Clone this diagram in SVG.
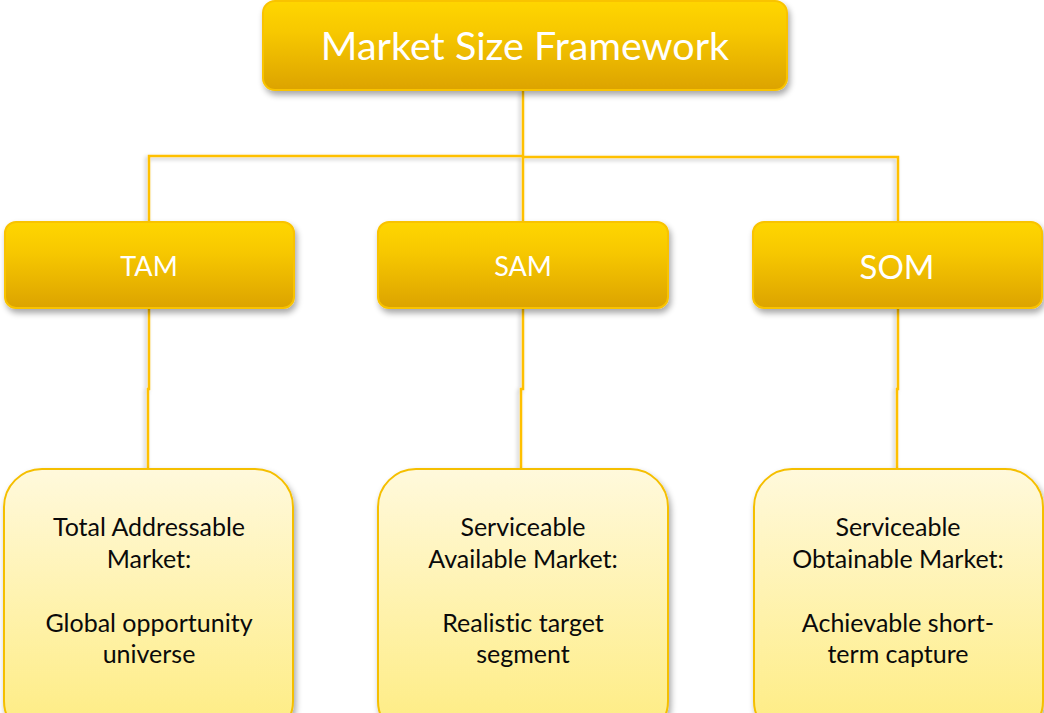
<svg xmlns="http://www.w3.org/2000/svg" width="1044" height="713" viewBox="0 0 1044 713">
  <defs>
    <linearGradient id="gold" x1="0" y1="0" x2="0" y2="1">
      <stop offset="0" stop-color="#FFD600"/>
      <stop offset="0.35" stop-color="#F7C800"/>
      <stop offset="1" stop-color="#DCA300"/>
    </linearGradient>
    <linearGradient id="cream" x1="0" y1="0" x2="0" y2="1">
      <stop offset="0" stop-color="#FFF9DC"/>
      <stop offset="1" stop-color="#FEEC80"/>
    </linearGradient>
    <filter id="shadow" x="-10%" y="-10%" width="125%" height="135%">
      <feGaussianBlur in="SourceAlpha" stdDeviation="3"/>
      <feOffset dx="2" dy="4" result="b"/>
      <feComponentTransfer><feFuncA type="linear" slope="0.35"/></feComponentTransfer>
      <feMerge><feMergeNode/><feMergeNode in="SourceGraphic"/></feMerge>
    </filter>
    <filter id="lineShadow" x="-50%" y="-20%" width="200%" height="140%">
      <feGaussianBlur in="SourceAlpha" stdDeviation="2"/>
      <feOffset dx="-2" dy="2" result="b"/>
      <feComponentTransfer><feFuncA type="linear" slope="0.25"/></feComponentTransfer>
      <feMerge><feMergeNode/><feMergeNode in="SourceGraphic"/></feMerge>
    </filter>
  </defs>
  <style>
    .head { fill: url(#gold); stroke: #F9C300; stroke-width: 2; filter: url(#shadow); }
    .card { fill: url(#cream); stroke: #F5BF00; stroke-width: 2; filter: url(#shadow); }
    .link { fill: none; stroke: #FFC000; stroke-width: 2.5; }
    text { font-variant-ligatures: none; font-feature-settings: "liga" 0, "clig" 0; }
    .hdr { font-family: Lato, "Open Sans", sans-serif; fill: #FFFFFF; text-anchor: middle; }
    .body { font-family: Lato, "Open Sans", sans-serif; fill: #0A0A0A; font-size: 25px; text-anchor: middle; }
  </style>

  <!-- connectors -->
  <g id="connectors" filter="url(#lineShadow)">
    <path class="link" d="M523 90 V156"/>
    <path class="link" d="M522 156 H149 V222"/>
    <path class="link" d="M523 157 H898 V222"/>
    <path class="link" d="M523 156 V222"/>
    <path class="link" d="M149 309 V389 H148 V469"/>
    <path class="link" d="M523 309 V389 H521 V469"/>
    <path class="link" d="M898 309 V389 H897 V469"/>
  </g>

  <!-- root -->
  <g id="root">
    <rect class="head" x="263" y="1" width="524" height="89" rx="12"/>
    <text class="hdr" x="525" y="60" font-size="39.5">Market Size Framework</text>
  </g>

  <!-- level 1 -->
  <g id="tam">
    <rect class="head" x="5" y="222" width="289" height="86" rx="11"/>
    <text class="hdr" x="149" y="276" font-size="27">TAM</text>
  </g>
  <g id="sam">
    <rect class="head" x="378" y="222" width="290" height="86" rx="11"/>
    <text class="hdr" x="523" y="276" font-size="27">SAM</text>
  </g>
  <g id="som">
    <rect class="head" x="753" y="222" width="289" height="86" rx="11"/>
    <text class="hdr" x="897" y="279" font-size="33">SOM</text>
  </g>

  <!-- level 2 -->
  <g id="tam-detail">
    <rect class="card" x="4" y="469" width="289" height="270" rx="38"/>
    <text class="body" x="149" y="536">Total Addressable</text>
    <text class="body" x="149" y="568">Market:</text>
    <text class="body" x="149" y="632">Global opportunity</text>
    <text class="body" x="149" y="663">universe</text>
  </g>
  <g id="sam-detail">
    <rect class="card" x="378" y="469" width="290" height="270" rx="38"/>
    <text class="body" x="523" y="536">Serviceable</text>
    <text class="body" x="523" y="568">Available Market:</text>
    <text class="body" x="523" y="632">Realistic target</text>
    <text class="body" x="523" y="663">segment</text>
  </g>
  <g id="som-detail">
    <rect class="card" x="754" y="469" width="289" height="270" rx="38"/>
    <text class="body" x="898" y="536">Serviceable</text>
    <text class="body" x="898" y="568">Obtainable Market:</text>
    <text class="body" x="898" y="632">Achievable short-</text>
    <text class="body" x="898" y="663">term capture</text>
  </g>
</svg>
